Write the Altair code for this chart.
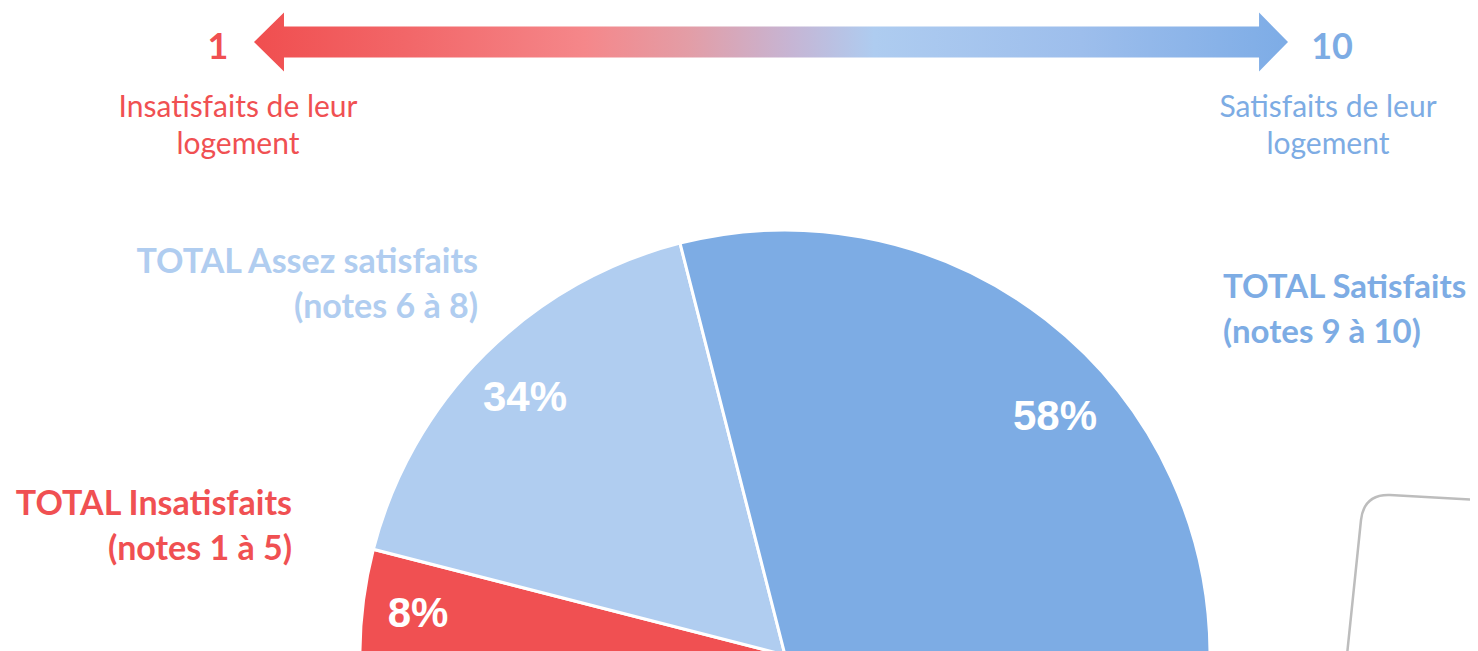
import altair as alt
import pandas as pd
import math

# ---------------- data ----------------
categories = ["Insatisfaits", "Assez satisfaits", "Satisfaits"]
percent = [8, 34, 58]                       # labels shown in the slices
arc_deg = [89.9, 61.3, 208.8]               # slice angles as drawn in the picture (deg)
colors = ["#F05052", "#B0CDF0", "#7DACE4"]
total_line1 = ["TOTAL Insatisfaits", "TOTAL Assez satisfaits", "TOTAL Satisfaits"]
total_line2 = ["(notes 1 à 5)", "(notes 6 à 8)", "(notes 9 à 10)"]
scale_ends = ["1", "10"]
scale_texts = [["Insatisfaits de leur", "logement"], ["Satisfaits de leur", "logement"]]

W, H = 1462, 643
OX, OY = 8, 8  # page margin
FONT = "Lato"

pie_df = pd.DataFrame({
    "cat": categories,
    "deg": arc_deg,
    "order": list(range(len(categories))),
})

start = math.radians(194.5)
pie = alt.Chart(pie_df).mark_arc(stroke="white", strokeWidth=3).encode(
    theta=alt.Theta("deg:Q", stack=True,
                    scale=alt.Scale(domain=[0, 360], range=[start, start + 2 * math.pi])),
    order=alt.Order("order:Q"),
    color=alt.Color("cat:N", scale=alt.Scale(domain=categories, range=colors), legend=None),
    x=alt.value(785 - OX), y=alt.value(655 - OY),
    radius=alt.value(425),
)

layers = [pie]


def text_layer(txt, x, y, color, size, weight="normal", align="center", font=FONT):
    df = pd.DataFrame({"t": [txt]})
    return alt.Chart(df).mark_text(
        align=align, baseline="alphabetic", font=font, fontSize=size,
        fontWeight=weight, color=color,
    ).encode(text="t:N", x=alt.value(x - OX), y=alt.value(y - OY))


# percentage labels
pct_pos = [(418, 627), (525, 411), (1055, 430)]
for p, (x, y) in zip(percent, pct_pos):
    layers.append(text_layer(f"{p}%", x, y, "white", 42, "bold", font="Liberation Sans"))

# category labels
cat_pos = [(292, 515, "right", 34), (478, 273, "right", 34), (1223, 298, "left", 33)]
for l1, l2, c, (x, y, a, fs) in zip(total_line1, total_line2, colors, cat_pos):
    layers.append(text_layer(l1, x, y, c, fs, "bold", align=a))
    layers.append(text_layer(l2, x, y + 45, c, fs, "bold", align=a))

# gradient arrow
grad = alt.LinearGradient(
    gradient="linear", x1=0, x2=1, y1=0, y2=0,
    stops=[
        alt.GradientStop(color="#F04E4F", offset=0.0),
        alt.GradientStop(color="#F26769", offset=0.15),
        alt.GradientStop(color="#F5878A", offset=0.32),
        alt.GradientStop(color="#E39DA6", offset=0.42),
        alt.GradientStop(color="#C6B5D4", offset=0.52),
        alt.GradientStop(color="#AECCF0", offset=0.60),
        alt.GradientStop(color="#9DBEEC", offset=0.80),
        alt.GradientStop(color="#7DACE6", offset=1.0),
    ])
arrow_path = ("M-1,0 L-0.942,-0.0571 L-0.942,-0.030 L0.944,-0.030 L0.944,-0.0571 "
              "L1,0 L0.944,0.0571 L0.944,0.030 L-0.942,0.030 L-0.942,0.0571 Z")
arrow = alt.Chart(pd.DataFrame({"a": [0]})).mark_point(
    shape=arrow_path, size=1034 ** 2, filled=True, fill=grad, opacity=1, strokeWidth=0
).encode(x=alt.value(771 - OX), y=alt.value(42 - OY))
layers.append(arrow)

# scale ends
layers.append(text_layer(scale_ends[0], 218, 59, "#F05052", 36, "bold"))
layers.append(text_layer(scale_ends[1], 1332, 59, "#7DACE4", 36, "bold"))
for lines, x, c in zip(scale_texts, [238, 1328], ["#F05052", "#7DACE4"]):
    layers.append(text_layer(lines[0], x, 117, c, 30))
    layers.append(text_layer(lines[1], x, 154, c, 30))

# gray rounded frame (partially visible, bottom right)
frame_path = "M-0.73,0.85 L-0.59,-0.50 Q-0.56,-0.76 -0.30,-0.75 L0.75,-0.69"
frame = alt.Chart(pd.DataFrame({"a": [0]})).mark_point(
    shape=frame_path, size=40000, filled=False, stroke="#BDBDBD", strokeWidth=2.5, opacity=1
).encode(x=alt.value(1420 - OX), y=alt.value(570 - OY))
layers.append(frame)

chart = alt.layer(*layers).properties(
    width=W, height=H, padding=0,
    autosize=alt.AutoSizeParams(type="none"),
).configure_view(stroke=None)

chart.save("out.html", embed_options={"renderer": "svg", "actions": False})
